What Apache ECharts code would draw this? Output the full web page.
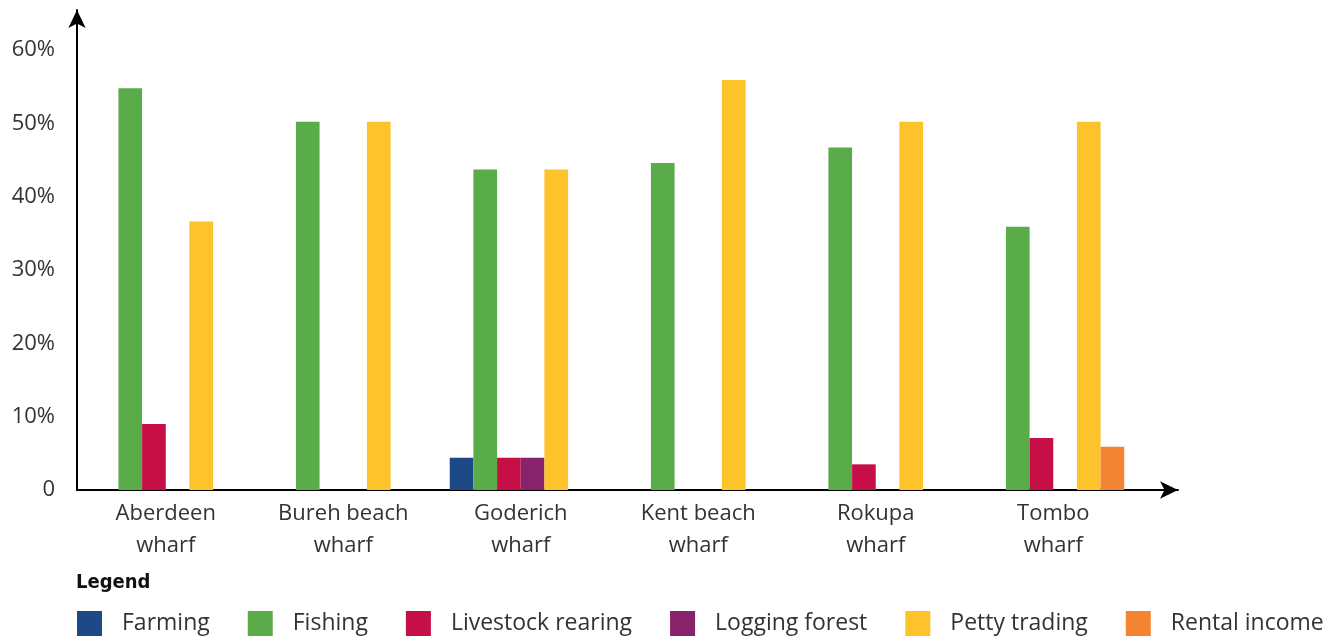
<!DOCTYPE html>
<html><head><meta charset="utf-8">
<script src="https://cdn.jsdelivr.net/npm/echarts@6/dist/echarts.min.js"></script>
<style>html,body{margin:0;padding:0;background:#fff}#c{width:1342px;height:642px}</style>
</head><body><div id="c"></div>
<script>
const categories = ['Aberdeen\nwharf','Bureh beach\nwharf','Goderich\nwharf','Kent beach\nwharf','Rokupa\nwharf','Tombo\nwharf'];
const seriesNames = ['Farming','Fishing','Livestock rearing','Logging forest','Petty trading','Rental income'];
const farming   = [null, null, 4.4, null, null, null];
const fishing   = [54.8, 50.2, 43.7, 44.6, 46.7, 35.9];
const livestock = [9.0, null, 4.4, null, 3.5, 7.1];
const logging   = [null, null, 4.4, null, null, null];
const petty     = [36.6, 50.2, 43.7, 55.9, 50.2, 50.2];
const rental    = [null, null, null, null, null, 5.9];
const yTicks = [0, 10, 20, 30, 40, 50, 60];
const colors = ['#1d4a87','#5aab4a','#c60f47','#86236b','#fec22b','#f38434'];

const font = 'Open Sans';
const txt = '#333';
const chart = echarts.init(document.getElementById('c'));
const values = [farming, fishing, livestock, logging, petty, rental];
chart.setOption({
  animation: false,
  color: colors,
  textStyle: {fontFamily: font},
  title: {text: 'Legend', left: 76, top: 573, padding: 0,
    textStyle: {fontFamily: 'DejaVu Sans Condensed', fontWeight: 'bold', fontSize: 20, color: '#111'}},
  legend: {left: 77, top: 611, padding: 0, itemWidth: 25, itemHeight: 25, itemGap: 38, icon: 'rect',
    textStyle: {fontFamily: font, fontSize: 23, color: txt, padding: [0,0,0,15]},
    data: seriesNames},
  grid: [
    {left: 77, right: 200, top: 50, bottom: 152},
    {left: 77, right: 164, top: 10, bottom: 152}
  ],
  xAxis: [
    {type: 'category', gridIndex: 0, data: categories,
     axisLine: {show: false}, axisTick: {show: false},
     axisLabel: {fontSize: 22, color: txt, lineHeight: 32, margin: 8, interval: 0}},
    {type: 'value', gridIndex: 1, min: 0, max: 1,
     axisLine: {show: true, symbol: ['none','arrow'], symbolSize: [13, 18], lineStyle: {color: '#000', width: 2}},
     axisTick: {show: false}, axisLabel: {show: false}, splitLine: {show: false}}
  ],
  yAxis: [
    {type: 'value', gridIndex: 0, min: 0, max: 60, interval: 10,
     axisLine: {show: false}, axisTick: {show: false}, splitLine: {show: false},
     axisLabel: {fontSize: 22, color: txt, margin: 22,
       formatter: v => yTicks.includes(v) ? (v === 0 ? '0' : v + '%') : ''}},
    {type: 'value', gridIndex: 1, min: 0, max: 1,
     axisLine: {show: true, symbol: ['none','arrow'], symbolSize: [13, 18], lineStyle: {color: '#000', width: 2}},
     axisTick: {show: false}, axisLabel: {show: false}, splitLine: {show: false}}
  ],
  series: seriesNames.map((n, i) => ({
    name: n, type: 'bar', xAxisIndex: 0, yAxisIndex: 0,
    data: values[i], barGap: '0%', barCategoryGap: '20%'
  }))
});
</script></body></html>
